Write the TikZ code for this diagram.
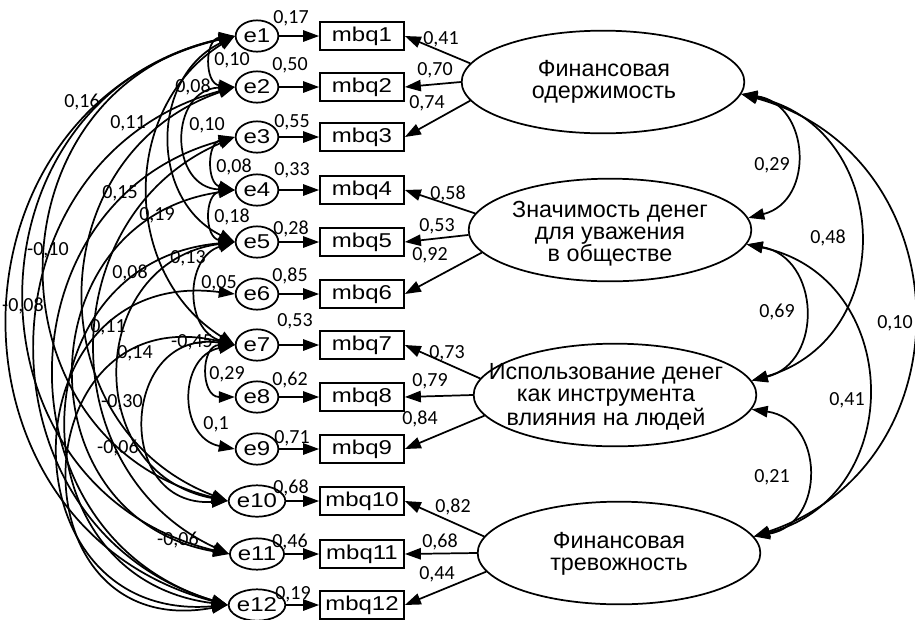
\documentclass[tikz,border=0pt]{standalone}
\usepackage{fontspec}
\usepackage{graphicx}
\setmainfont{Liberation Sans}
\newfontfamily\numfont{Carlito}
\usetikzlibrary{arrows.meta,shapes.geometric}
\newcommand{\wtext}[1]{\scalebox{1.2}[1]{#1}}
\tikzset{
  err/.style={ellipse, draw, line width=1.3pt, minimum width=32pt, minimum height=23.5pt, inner sep=0pt, font=\fontsize{15}{15}\selectfont},
  obs/.style={rectangle, draw, line width=1.3pt, minimum width=63pt, minimum height=21pt, inner sep=0pt, font=\fontsize{15}{15}\selectfont},
  latent/.style={ellipse, draw, line width=1.3pt, minimum width=212pt, minimum height=77pt, inner sep=0pt},
  lattext/.style={align=center, inner sep=0pt, font=\fontsize{17.5}{16.5}\selectfont},
  num/.style={inner sep=0pt, font=\numfont\fontsize{15}{15}\selectfont},
  regarrow/.style={line width=1.3pt, -{Triangle[length=12pt,width=8.5pt]}},
  cov/.style={line width=1.3pt, {Triangle[length=12pt,width=8.5pt]}-{Triangle[length=12pt,width=8.5pt]}},
}
\begin{document}
\begin{tikzpicture}[x=0.75pt,y=0.75pt]
\useasboundingbox (0,0) rectangle (915,-619);
% error terms and items
\foreach \i/\y in {1/36,2/87,3/137,4/190,5/242,6/294,7/345,8/397,9/449,10/501,11/554,12/605} {
  \node[err] (e\i) at (257,-\y) {\wtext{e\i}};
  \node[obs] (m\i) at (362,-\y) {\wtext{mbq\i}};
  \draw[regarrow] (e\i) -- (m\i);
}
\foreach \i/\x/\y/\v in {1/291/18/{0,17},2/290/65/{0,50},3/292/122/{0,55},4/292/170/{0,33},
  5/291/229/{0,28},6/290/276/{0,85},7/295/321/{0,53},8/290/380/{0,62},
  9/292/438/{0,71},10/291/488/{0,68},11/290/542/{0,46},12/293/594/{0,19}}
  \node[num] (w\i) at (\x,-\y) {\v};
% latent factors
\node[latent] (F1) at (603,-82) {};
\node[latent] (F2) at (610,-230) {};
\node[latent] (F3) at (615,-395) {};
\node[latent] (F4) at (619,-553) {};
\node[lattext] (T1) at (604,-82) {Финансовая\\одержимость};
\node[lattext] (T2) at (610,-234) {Значимость денег\\для уважения\\в обществе};
\node[lattext] (T3) at (606,-397) {Использование денег\\как инструмента\\влияния на людей};
\node[lattext] (T4) at (619,-554) {Финансовая\\тревожность};
% loadings
\foreach \f/\a/\i in {1/172/1,1/180/2,1/188/3,2/173/4,2/182/5,2/190/6,
  3/173/7,3/180/8,3/189/9,4/173/10,4/180/11,4/188/12}
  \draw[regarrow] (F\f.\a) -- (m\i.east);
\foreach \i/\x/\y/\v in {1/441/39/{0,41},2/435/70/{0,70},3/427/103/{0,74},4/448/194/{0,58},
  5/437/226/{0,53},6/430/255/{0,92},7/447/353/{0,73},8/430/381/{0,79},
  9/420/419/{0,84},10/453/507/{0,82},11/440/542/{0,68},12/437/574/{0,44}}
  \node[num] (l\i) at (\x,-\y) {\v};
% factor covariances
\draw[cov] (F1.-5) to[bend left=79, looseness=1.43] (F2.5);
\draw[cov] (F1.-5) to[bend left=76, looseness=1.38] (F3.6);
\draw[cov] (F1.-5) to[bend left=73, looseness=1.33] (F4.7);
\draw[cov] (F2.-6) to[bend left=78, looseness=1.40] (F3.6);
\draw[cov] (F2.-6) to[bend left=77, looseness=1.40] (F4.7);
\draw[cov] (F3.-6) to[bend left=81, looseness=1.48] (F4.7);
\foreach \i/\x/\y/\v in {1/772/165/{0,29},2/828/238/{0,48},3/777/312/{0,69},
  4/847/400/{0,41},5/895/323/{0,10},6/772/477/{0,21}}
  \node[num] (r\i) at (\x,-\y) {\v};
% error covariances
\foreach \a/\b/\t/\l in {1/2/84/1.54,2/4/88/1.65,1/5/64/1.18,3/4/77/1.39,4/5/83/1.52,
  5/7/73/1.31,1/7/58/1.12,7/8/90/1.70,7/9/79/1.43,1/12/76/1.37,1/11/77/1.39,
  2/12/74/1.33,1/10/77/1.39,3/12/74/1.33,4/11/81/1.48,5/12/84/1.54,5/10/81/1.48,
  6/12/96/1.89,7/12/102/2.17,7/10/96/1.89,2/10/70/1.28,3/11/66/1.21}
  \draw[cov] (e\a.west) to[bend right=\t, looseness=\l] (e\b.west);
\foreach \i/\x/\y/\v in {1/232/60/{0,10},2/193/87/{0,08},3/207/125/{0,10},4/234/167/{0,08},
  5/232/217/{0,18},6/219/283/{0,05},7/192/342/{-0,45},8/227/374/{0,29},9/216/424/{0,1},
  10/23/306/{-0,08},11/48/250/{-0,10},12/128/123/{0,11},13/82/102/{0,16},14/120/193/{0,15},
  15/157/215/{0,19},16/130/273/{0,08},17/188/258/{0,13},18/108/327/{0,11},19/135/353/{0,14},
  20/122/402/{-0,30},21/118/448/{-0,06},22/178/540/{-0,06}}
  \node[num] (c\i) at (\x,-\y) {\v};
\end{tikzpicture}
\end{document}
